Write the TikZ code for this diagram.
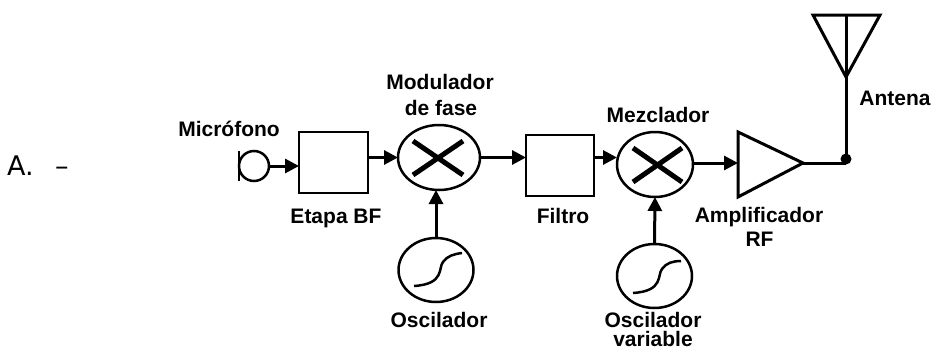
\documentclass[tikz,border=0pt]{standalone}
\usepackage{fontspec}
\setmainfont{Liberation Sans}
\newfontfamily\letrafont{DejaVu Sans}
\usetikzlibrary{arrows.meta,shapes.geometric}

\tikzset{
  etiqueta/.style={font=\fontsize{21}{24}\selectfont\bfseries,anchor=base,inner sep=0pt},
  caja/.style={draw,rectangle,line width=2pt,inner sep=0pt,outer sep=0pt},
  circulo/.style={draw,ellipse,line width=2.5pt,inner sep=0pt,outer sep=0pt},
  flecha/.style={-{Stealth[inset=0pt,length=14pt,width=14pt]},line width=3pt},
  linea/.style={line width=3pt},
  cruz/.style={line width=5pt},
  onda/.style={line width=2.5pt}
}

\begin{document}
\begin{tikzpicture}[x=1pt,y=-1pt]
\useasboundingbox (0,0) rectangle (932,351);

\node[anchor=base west,inner sep=0pt,font=\fontsize{27}{30}\selectfont\letrafont] (letra) at (7,175) {A.};
\node[anchor=base west,inner sep=0pt,font=\fontsize{27}{30}\selectfont\letrafont] (guion) at (55,175) {–};

% bloques
\node[circulo,circle,minimum size=30pt] (mic) at (254,166) {};
\node[caja,minimum width=69pt,minimum height=61pt] (etapabf) at (333.5,162.5) {};
\node[circulo,minimum width=82pt,minimum height=65pt] (modulador) at (439,157.5) {};
\node[circulo,minimum width=75pt,minimum height=64pt] (oscilador) at (436,270) {};
\node[caja,minimum width=68pt,minimum height=61pt] (filtro) at (560,165.5) {};
\node[circulo,minimum width=76pt,minimum height=65pt] (mezclador) at (655,164.5) {};
\node[circulo,minimum width=75pt,minimum height=64pt] (oscvar) at (654.5,276) {};

% microfono
\coordinate (micA) at (239,151);
\coordinate (micB) at (239,181);
\draw[line width=2pt] (micA) -- (micB);

% amplificador
\coordinate (ampA) at (738,132);
\coordinate (ampB) at (738,197);
\coordinate (ampC) at (803,163);
\draw[linea,line join=miter] (ampA) -- (ampC) -- (ampB) -- cycle;

% antena
\coordinate (antA) at (813,15);
\coordinate (antB) at (880,15);
\coordinate (antC) at (846,77);
\coordinate (antD) at (846,15);
\node[circle,fill,minimum size=11pt,inner sep=0pt] (punto) at (846,159) {};
\draw[linea] (antA) -- (antB) -- (antC) -- cycle;
\draw[linea] (antD) -- (punto.center);
\draw[linea] (ampC) -- (punto.center |- ampC);

% multiplicadores
\draw[cruz] (413,141) -- (463,175);
\draw[cruz] (413,175) -- (463,141);
\draw[cruz] (633,148) -- (682,182);
\draw[cruz] (633,182) -- (682,148);

% senales de los osciladores
\draw[onda] (414,286) .. controls (445,284) and (438,268) .. (443,262) .. controls (447,256) and (454,254) .. (462,253);
\draw[onda] (633,293) .. controls (664,291) and (657,275) .. (662,269) .. controls (666,263) and (673,261) .. (681,261);

% conexiones
\draw[flecha] (mic.east) -- (etapabf.west |- mic.east);
\draw[flecha] (etapabf.east |- modulador.west) -- (modulador.west);
\draw[flecha] (modulador.east) -- (filtro.west |- modulador.east);
\draw[flecha] (filtro.east |- modulador.east) -- (mezclador.west |- modulador.east);
\draw[flecha] (oscilador.north) -- (oscilador.north |- modulador.south);
\draw[flecha] (mezclador.east |- ampC) -- (ampA |- ampC);
\draw[flecha] (oscvar.north) -- (mezclador.south);

% textos
\node[etiqueta] (tmic) at (229,136) {Micrófono};
\node[etiqueta] (tetapa) at (336,223) {Etapa BF};
\node[etiqueta] (tmod) at (440,89) {Modulador};
\node[etiqueta] (tfase) at (441,115) {de fase};
\node[etiqueta] (tosc) at (439,327) {Oscilador};
\node[etiqueta] (tfiltro) at (563,223) {Filtro};
\node[etiqueta] (tmez) at (658,122) {Mezclador};
\node[etiqueta] (tvar) at (653,327) {Oscilador};
\node[etiqueta] (tvar2) at (653,346.5) {variable};
\node[etiqueta] (tamp) at (759,222) {Amplificador};
\node[etiqueta] (trf) at (759.5,246) {RF};
\node[etiqueta] (tant) at (895,105) {Antena};
\end{tikzpicture}
\end{document}
